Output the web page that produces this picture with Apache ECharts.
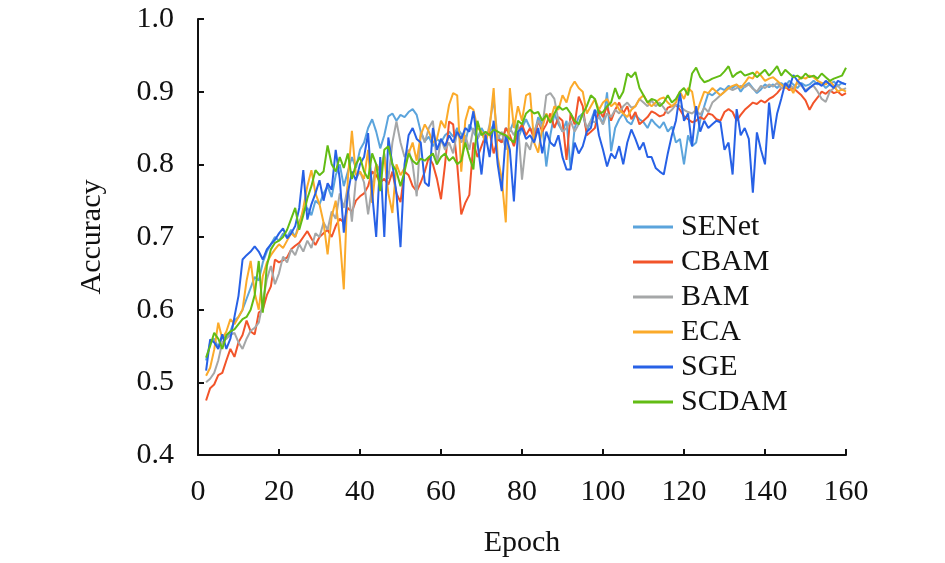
<!DOCTYPE html>
<html>
<head>
<meta charset="utf-8">
<script src="https://cdn.jsdelivr.net/npm/echarts@6/dist/echarts.min.js"></script>
<style>
html,body{margin:0;padding:0;background:#fff;}
#chart{width:945px;height:563px;}
</style>
</head>
<body>
<div id="chart"></div>
<script>
// Epochs 2..160
const firstEpoch = 2;
const seriesNames = ['SENet', 'CBAM', 'BAM', 'ECA', 'SGE', 'SCDAM'];
const xTicks = [0, 20, 40, 60, 80, 100, 120, 140, 160];
const yTicks = [0.4, 0.5, 0.6, 0.7, 0.8, 0.9, 1.0];

const SENet = [
  .530,.555,.560,.548,.565,.560,.570,.585,.590,.600,
  .615,.630,.645,.640,.665,.680,.690,.700,.695,.705,
  .700,.710,.700,.720,.735,.740,.730,.750,.745,.760,
  .770,.755,.785,.800,.770,.790,.810,.795,.820,.830,
  .850,.862,.845,.822,.840,.866,.870,.860,.868,.865,
  .872,.876,.868,.845,.832,.838,.825,.835,.830,.840,
  .845,.838,.850,.842,.830,.855,.845,.835,.850,.840,
  .845,.855,.840,.830,.850,.845,.860,.835,.850,.862,
  .850,.840,.865,.855,.797,.840,.870,.855,.845,.860,
  .793,.850,.865,.870,.845,.860,.875,.868,.855,.899,
  .818,.850,.862,.870,.859,.855,.868,.862,.858,.850,
  .862,.855,.850,.858,.845,.852,.830,.835,.800,.840,
  .825,.830,.860,.880,.898,.895,.900,.905,.902,.908,
  .905,.910,.900,.908,.912,.905,.898,.903,.910,.906,
  .910,.905,.912,.908,.915,.910,.905,.912,.908,.910,
  .915,.910,.912,.905,.910,.914,.908,.912,.910
];
const CBAM = [
  .475,.492,.497,.510,.513,.530,.546,.535,.555,.565,
  .585,.570,.566,.596,.600,.620,.632,.669,.665,.668,
  .672,.683,.688,.692,.700,.708,.698,.689,.700,.705,
  .710,.700,.715,.725,.720,.740,.735,.750,.756,.760,
  .770,.790,.785,.775,.780,.772,.790,.760,.748,.790,
  .785,.770,.763,.775,.790,.810,.800,.780,.752,.800,
  .859,.855,.800,.731,.747,.758,.830,.810,.825,.840,
  .845,.815,.835,.830,.850,.840,.825,.845,.855,.840,
  .850,.835,.860,.845,.855,.870,.850,.865,.860,.806,
  .870,.855,.893,.880,.840,.845,.850,.875,.865,.880,
  .860,.875,.885,.870,.880,.862,.872,.855,.860,.865,
  .873,.870,.866,.868,.878,.880,.882,.875,.866,.862,
  .858,.860,.865,.862,.870,.868,.862,.860,.872,.876,
  .872,.860,.868,.875,.880,.885,.883,.888,.885,.890,
  .893,.898,.905,.907,.902,.905,.900,.895,.888,.875,
  .885,.892,.900,.897,.902,.898,.900,.895,.898
];
const BAM = [
  .500,.505,.513,.530,.555,.560,.565,.568,.555,.546,
  .560,.571,.575,.582,.610,.642,.660,.635,.650,.673,
  .665,.683,.675,.690,.680,.695,.685,.705,.700,.720,
  .710,.735,.725,.760,.740,.770,.721,.780,.790,.775,
  .731,.770,.800,.790,.815,.780,.830,.859,.830,.810,
  .820,.800,.756,.845,.830,.850,.860,.800,.835,.820,
  .830,.815,.845,.830,.840,.820,.850,.835,.845,.830,
  .855,.889,.835,.845,.820,.850,.840,.855,.779,.830,
  .820,.845,.860,.850,.895,.898,.890,.860,.845,.850,
  .860,.845,.855,.870,.850,.860,.858,.865,.855,.870,
  .865,.875,.870,.880,.885,.878,.880,.890,.885,.880,
  .888,.880,.885,.878,.870,.875,.882,.880,.875,.872,
  .870,.875,.868,.878,.872,.885,.890,.895,.900,.905,
  .902,.905,.908,.906,.910,.904,.900,.908,.905,.910,
  .907,.912,.905,.908,.910,.905,.912,.908,.902,.906,
  .908,.900,.890,.886,.900,.905,.908,.902,.905
];
const ECA = [
  .509,.520,.545,.582,.560,.570,.587,.580,.590,.600,
  .640,.667,.623,.600,.646,.665,.675,.683,.690,.685,
  .695,.705,.700,.715,.740,.770,.792,.760,.745,.720,
  .676,.728,.750,.700,.628,.780,.846,.785,.790,.780,
  .820,.747,.800,.790,.810,.760,.733,.800,.785,.795,
  .815,.830,.805,.840,.855,.845,.830,.835,.860,.850,
  .882,.898,.895,.790,.860,.880,.875,.850,.845,.830,
  .850,.905,.810,.780,.720,.905,.850,.880,.860,.895,
  .898,.830,.816,.850,.870,.860,.880,.875,.895,.885,
  .905,.914,.905,.900,.870,.880,.890,.875,.885,.890,
  .880,.885,.875,.870,.865,.875,.880,.890,.895,.885,
  .880,.885,.890,.892,.885,.880,.885,.900,.890,.905,
  .900,.868,.885,.900,.898,.905,.900,.895,.900,.905,
  .908,.910,.905,.912,.920,.918,.928,.922,.915,.918,
  .920,.915,.910,.905,.908,.898,.915,.920,.918,.922,
  .920,.915,.912,.910,.915,.908,.900,.903,.900
];
const SGE = [
  .516,.559,.555,.546,.566,.546,.560,.590,.619,.669,
  .675,.680,.687,.680,.669,.683,.690,.696,.705,.712,
  .698,.705,.715,.740,.792,.724,.745,.760,.778,.750,
  .774,.765,.820,.780,.706,.760,.790,.778,.800,.810,
  .843,.760,.700,.810,.700,.837,.800,.760,.686,.800,
  .840,.850,.835,.830,.775,.770,.850,.820,.835,.825,
  .840,.830,.845,.835,.850,.845,.873,.830,.786,.840,
  .810,.860,.800,.763,.840,.820,.749,.845,.850,.835,
  .840,.830,.850,.815,.845,.830,.825,.840,.810,.793,
  .793,.830,.815,.825,.845,.850,.875,.840,.820,.797,
  .815,.808,.825,.800,.830,.848,.835,.820,.830,.810,
  .810,.795,.790,.786,.815,.840,.860,.898,.860,.870,
  .825,.880,.845,.860,.850,.855,.860,.858,.820,.830,
  .786,.876,.840,.850,.835,.761,.844,.820,.800,.885,
  .835,.870,.890,.912,.905,.923,.915,.910,.900,.905,
  .910,.912,.908,.915,.910,.905,.915,.912,.910
];
const SCDAM = [
  .534,.550,.568,.560,.546,.565,.570,.573,.580,.587,
  .590,.600,.620,.667,.596,.660,.683,.692,.695,.700,
  .710,.725,.740,.710,.730,.753,.770,.792,.785,.790,
  .826,.800,.790,.810,.795,.815,.780,.800,.810,.790,
  .780,.815,.800,.763,.820,.825,.800,.790,.770,.790,
  .815,.805,.800,.808,.805,.810,.815,.800,.810,.815,
  .805,.810,.800,.805,.830,.810,.793,.860,.840,.845,
  .840,.848,.845,.842,.840,.835,.830,.860,.855,.870,
  .875,.870,.872,.860,.868,.857,.870,.880,.875,.878,
  .870,.860,.855,.870,.880,.895,.890,.870,.872,.880,
  .885,.905,.890,.900,.925,.920,.927,.905,.895,.885,
  .890,.888,.880,.885,.895,.885,.890,.900,.905,.895,
  .925,.933,.920,.913,.915,.918,.920,.922,.928,.935,
  .920,.925,.928,.922,.924,.926,.920,.925,.930,.922,
  .928,.935,.922,.930,.925,.920,.922,.918,.925,.920,
  .922,.918,.925,.920,.915,.918,.920,.922,.933
];

const seriesValues = [SENet, CBAM, BAM, ECA, SGE, SCDAM];
const colors = ['#5BA4DC', '#F2542A', '#A5A7A8', '#FBAA2A', '#2761E6', '#62BC14'];

const FONT = '"Liberation Serif", "Times New Roman", serif';

const chart = echarts.init(document.getElementById('chart'), null, {renderer: 'canvas'});
chart.setOption({
  animation: false,
  backgroundColor: '#fff',
  grid: {left: 198, right: 99, top: 19, bottom: 107, containLabel: false},
  legend: {
    orient: 'vertical',
    left: 633,
    top: 212,
    padding: 0,
    itemWidth: 40,
    itemHeight: 3,
    itemGap: 5,
    icon: 'rect',
    data: seriesNames,
    textStyle: {fontFamily: FONT, fontSize: 30, color: '#111', lineHeight: 30, padding: [0, 0, 0, 3]}
  },
  xAxis: {
    type: 'value',
    min: xTicks[0],
    max: xTicks[xTicks.length - 1],
    interval: 20,
    name: 'Epoch',
    nameLocation: 'middle',
    nameGap: 73,
    nameTextStyle: {fontFamily: FONT, fontSize: 30, color: '#111'},
    axisLine: {show: true, onZero: false, lineStyle: {color: '#111', width: 2}},
    axisTick: {show: true, inside: true, length: 6, lineStyle: {color: '#111', width: 2}},
    axisLabel: {fontFamily: FONT, fontSize: 30, color: '#111', margin: 22},
    splitLine: {show: false}
  },
  yAxis: {
    type: 'value',
    min: yTicks[0],
    max: yTicks[yTicks.length - 1],
    interval: 0.1,
    name: 'Accuracy',
    nameLocation: 'middle',
    nameRotate: 90,
    nameGap: 91,
    nameTextStyle: {fontFamily: FONT, fontSize: 30, color: '#111'},
    axisLine: {show: true, lineStyle: {color: '#111', width: 2}},
    axisTick: {show: true, inside: true, length: 6, lineStyle: {color: '#111', width: 2}},
    axisLabel: {fontFamily: FONT, fontSize: 30, color: '#111', margin: 24,
      formatter: v => v.toFixed(1)},
    splitLine: {show: false}
  },
  series: seriesNames.map((name, i) => ({
    name: name,
    type: 'line',
    symbol: 'none',
    color: colors[i],
    lineStyle: {width: 2, color: colors[i]},
    data: seriesValues[i].map((v, j) => [firstEpoch + j, v])
  }))
});
</script>
</body>
</html>
